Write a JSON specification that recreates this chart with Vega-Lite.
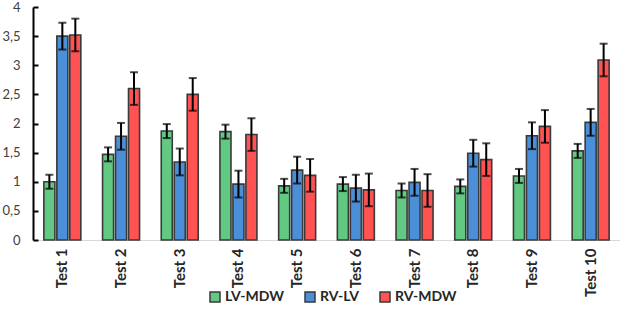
{
  "$schema": "https://vega.github.io/schema/vega-lite/v6.json",
  "autosize": "none",
  "width": 587,
  "height": 233,
  "padding": {"left": 33, "top": 7, "right": 0, "bottom": 85},
  "background": "white",
  "config": {
    "view": {"stroke": null},
    "font": "Lato",
    "axis": {"grid": false}
  },
  "data": {
    "values": [
      {"test": "Test 1", "series": "LV-MDW", "value": 1.0, "err": 0.12},
      {"test": "Test 1", "series": "RV-LV", "value": 3.5, "err": 0.23},
      {"test": "Test 1", "series": "RV-MDW", "value": 3.52, "err": 0.28},
      {"test": "Test 2", "series": "LV-MDW", "value": 1.47, "err": 0.12},
      {"test": "Test 2", "series": "RV-LV", "value": 1.78, "err": 0.23},
      {"test": "Test 2", "series": "RV-MDW", "value": 2.6, "err": 0.28},
      {"test": "Test 3", "series": "LV-MDW", "value": 1.87, "err": 0.12},
      {"test": "Test 3", "series": "RV-LV", "value": 1.34, "err": 0.23},
      {"test": "Test 3", "series": "RV-MDW", "value": 2.5, "err": 0.28},
      {"test": "Test 4", "series": "LV-MDW", "value": 1.86, "err": 0.12},
      {"test": "Test 4", "series": "RV-LV", "value": 0.96, "err": 0.23},
      {"test": "Test 4", "series": "RV-MDW", "value": 1.81, "err": 0.28},
      {"test": "Test 5", "series": "LV-MDW", "value": 0.93, "err": 0.12},
      {"test": "Test 5", "series": "RV-LV", "value": 1.2, "err": 0.23},
      {"test": "Test 5", "series": "RV-MDW", "value": 1.11, "err": 0.28},
      {"test": "Test 6", "series": "LV-MDW", "value": 0.96, "err": 0.12},
      {"test": "Test 6", "series": "RV-LV", "value": 0.89, "err": 0.23},
      {"test": "Test 6", "series": "RV-MDW", "value": 0.86, "err": 0.28},
      {"test": "Test 7", "series": "LV-MDW", "value": 0.85, "err": 0.12},
      {"test": "Test 7", "series": "RV-LV", "value": 0.99, "err": 0.23},
      {"test": "Test 7", "series": "RV-MDW", "value": 0.85, "err": 0.28},
      {"test": "Test 8", "series": "LV-MDW", "value": 0.92, "err": 0.12},
      {"test": "Test 8", "series": "RV-LV", "value": 1.49, "err": 0.23},
      {"test": "Test 8", "series": "RV-MDW", "value": 1.38, "err": 0.28},
      {"test": "Test 9", "series": "LV-MDW", "value": 1.1, "err": 0.12},
      {"test": "Test 9", "series": "RV-LV", "value": 1.79, "err": 0.23},
      {"test": "Test 9", "series": "RV-MDW", "value": 1.95, "err": 0.28},
      {"test": "Test 10", "series": "LV-MDW", "value": 1.53, "err": 0.12},
      {"test": "Test 10", "series": "RV-LV", "value": 2.02, "err": 0.23},
      {"test": "Test 10", "series": "RV-MDW", "value": 3.09, "err": 0.28}
    ]
  },
  "encoding": {
    "x": {
      "field": "test",
      "type": "nominal",
      "sort": null,
      "scale": {"paddingInner": 0.37, "paddingOuter": 0.185},
      "axis": {
        "title": null,
        "labelAngle": -90,
        "labelAlign": "right",
        "labelBaseline": "middle",
        "labelFontWeight": "bold",
        "labelFontSize": 15,
        "labelColor": "#262626",
        "labelPadding": 8,
        "ticks": false,
        "domainColor": "#d9d9d9",
        "domainWidth": 1
      }
    },
    "xOffset": {
      "field": "series",
      "type": "nominal",
      "scale": {"paddingInner": 0.15, "paddingOuter": 0}
    },
    "y": {
      "field": "value",
      "type": "quantitative",
      "scale": {"domain": [0, 4], "nice": false},
      "axis": {
        "title": null,
        "values": [0, 0.5, 1, 1.5, 2, 2.5, 3, 3.5, 4],
        "labelExpr": "replace(format(datum.value, '~g'), '.', ',')",
        "labelOverlap": false,
        "labelFontSize": 13,
        "labelColor": "#404040",
        "labelPadding": 18,
        "tickSize": -5,
        "tickWidth": 2,
        "tickColor": "#000000",
        "domainColor": "#000000",
        "domainWidth": 2
      }
    }
  },
  "layer": [
    {
      "mark": {"type": "bar", "stroke": "#3a3a3a", "strokeWidth": 1.6},
      "encoding": {
        "fill": {
          "field": "series",
          "type": "nominal",
          "scale": {
            "domain": ["LV-MDW", "RV-LV", "RV-MDW"],
            "range": ["#62c983", "#4a8fd8", "#ff5252"]
          },
          "legend": {
            "title": null,
            "orient": "none",
            "direction": "horizontal",
            "legendX": 175,
            "legendY": 283,
            "symbolType": "square",
            "symbolSize": 100,
            "symbolStrokeColor": "#3a3a3a",
            "symbolStrokeWidth": 1.5,
            "labelFontSize": 14,
            "labelFontWeight": "bold",
            "labelColor": "#262626",
            "labelOffset": 3,
            "columnPadding": 18
          }
        }
      }
    },
    {
      "mark": {
        "type": "errorbar",
        "color": "#000000",
        "thickness": 2,
        "ticks": {"size": 8, "thickness": 2, "color": "#000000"}
      },
      "encoding": {
        "yError": {"field": "err"}
      }
    }
  ]
}
